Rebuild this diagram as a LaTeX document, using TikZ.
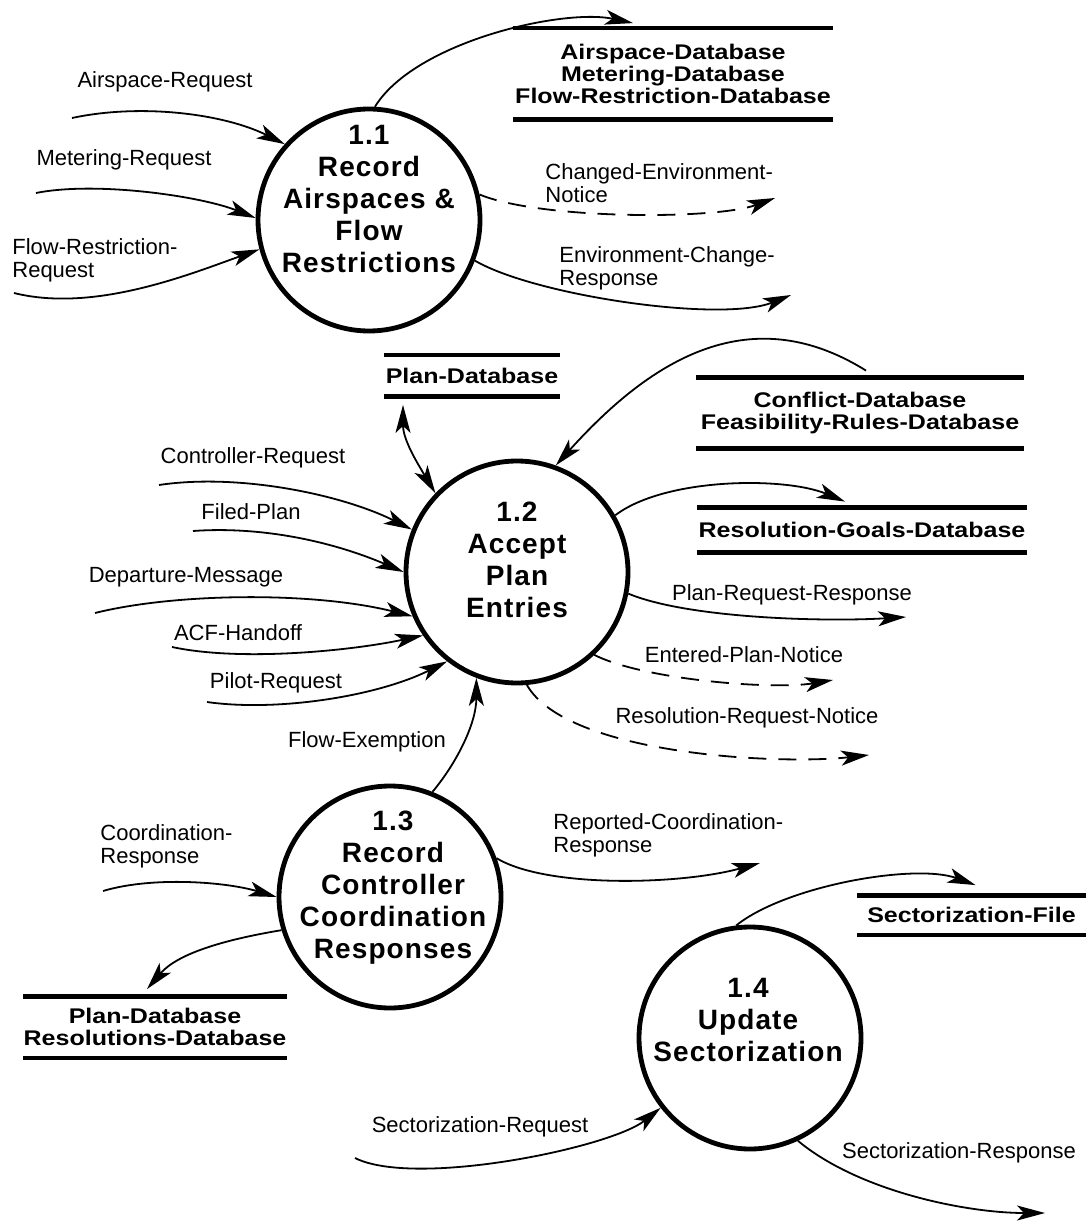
\documentclass[tikz,border=0pt]{standalone}
\usepackage{fontspec}
\setmainfont{Liberation Sans}
\newfontfamily\procfont[LetterSpace=4]{Liberation Sans}
\newfontfamily\storefont[FakeStretch=1.18]{Liberation Sans}
\usetikzlibrary{arrows.meta, shapes.geometric, positioning}

\begin{document}
\begin{tikzpicture}[x=0.5pt, y=-0.5pt,
      >={Stealth[length=14pt, width=7.5pt, inset=3.5pt]},
      proc/.style={circle, draw, line width=2.4pt, minimum size=111pt, inner sep=0pt},
      ptext/.style={align=center, inner sep=0pt,
                    font=\procfont\bfseries\fontsize{14}{16}\selectfont},
      store/.style={align=center, inner sep=0pt,
                    font=\storefont\bfseries\fontsize{10.6}{10.8}\selectfont},
      lbl/.style={align=left, inner sep=0pt, font=\fontsize{11}{11.5}\selectfont},
      flow/.style={->, line width=0.9pt},
      notice/.style={flow, dash pattern=on 9pt off 6pt},
      storeline/.style={line width=2.4pt}]
    \useasboundingbox (0,0) rectangle (1086,1224);

    \node[proc] (p11) at (369,220) {};
    \node[ptext] (t11) at (369,199) {1.1\\Record\\Airspaces \&\\Flow\\Restrictions};
    \node[proc] (p12) at (517,572) {};
    \node[ptext] (t12) at (517,560) {1.2\\Accept\\Plan\\Entries};
    \node[proc] (p13) at (390,897) {};
    \node[ptext] (t13) at (393,888) {1.3\\Record\\Controller\\Coordination\\Responses};
    \node[proc] (p14) at (750,1038) {};
    \node[ptext] (t14) at (748,1020) {1.4\\Update\\Sectorization};

    \node[store, minimum width=160pt, minimum height=45.5pt] (s1) at (673,74)
      {Airspace-Database\\Metering-Database\\Flow-Restriction-Database};
    \node[store, minimum width=87.5pt, minimum height=20.5pt] (s2) at (472,376) {Plan-Database};
    \node[store, minimum width=163.5pt, minimum height=35pt] (s3) at (860,413)
      {Conflict-Database\\Feasibility-Rules-Database};
    \node[store, minimum width=165pt, minimum height=22pt] (s4) at (862,530)
      {Resolution-Goals-Database};
    \node[store, minimum width=130.5pt, minimum height=30.5pt] (s5) at (155,1027)
      {Plan-Database\\Resolutions-Database};
    \node[store, minimum width=114.5pt, minimum height=19.5pt] (s6) at (971.5,915)
      {Sectorization-File};
    \foreach \s in {s1,s2,s3,s4,s5,s6}
      \draw[storeline] (\s.north west) -- (\s.north east) (\s.south west) -- (\s.south east);

    \coordinate (airq) at (72,118);
    \coordinate (metq) at (36,193);
    \coordinate (frq) at (14,293);
    \coordinate (cen) at (775,198);
    \coordinate (ecr) at (791,295);
    \coordinate (ctlq) at (159,485);
    \coordinate (fpl) at (193,531);
    \coordinate (dep) at (95,613);
    \coordinate (acf) at (172,647);
    \coordinate (pil) at (207,702);
    \coordinate (prr) at (906,617);
    \coordinate (epn) at (833,680);
    \coordinate (rrn) at (869,755);
    \coordinate (cor) at (103,891);
    \coordinate (rcr) at (760,863);
    \coordinate (secq) at (355,1158);
    \coordinate (secr) at (1045,1213);

    \draw[flow] (airq) .. controls +(70,-15) and +(-60,-30) .. (p11.138);
    \draw[flow] (metq) .. controls +(60,-12) and +(-55,-22) .. (p11.179);
    \draw[flow] (frq) .. controls +(80,20) and +(-70,25) .. (p11.195);
    \draw[flow] (p11.87) .. controls +(40,-65) and +(-70,-15) .. ([xshift=-20pt,yshift=2.5pt]s1.north);
    \draw[notice] (p11.13) .. controls +(60,25) and +(-60,22) .. (cen);
    \draw[flow] (p11.339) .. controls +(60,35) and +(-70,28) .. (ecr);

    \draw[<->, line width=0.9pt] ([xshift=-34.5pt,yshift=-4pt]s2.south)
      .. controls +(0,35) and +(-18,-30) .. (p12.136);
    \draw[flow] ([xshift=3pt,yshift=3.5pt]s3.north) .. controls +(-120,-75) and +(90,-100) .. (p12.70);
    \draw[flow] (p12.30) .. controls +(50,-38) and +(-60,-25) .. ([xshift=-8.5pt,yshift=3pt]s4.north);
    \draw[flow] (ctlq) .. controls +(80,-12) and +(-70,-35) .. (p12.158);
    \draw[flow] (fpl) .. controls +(70,-5) and +(-70,-30) .. (p12.180);
    \draw[flow] (dep) .. controls +(80,-20) and +(-100,-25) .. (p12.203);
    \draw[flow] (acf) .. controls +(70,15) and +(-70,15) .. (p12.214);
    \draw[flow] (pil) .. controls +(70,10) and +(-70,35) .. (p12.232);
    \draw[flow] (p13.68) .. controls +(25,-30) and +(0,45) .. (p12.249);
    \draw[flow] (p12.349) .. controls +(60,25) and +(-80,5) .. (prr);
    \draw[notice] (p12.313) .. controls +(50,25) and +(-60,10) .. (epn);
    \draw[notice] (p12.275) .. controls +(40,70) and +(-90,10) .. (rrn);

    \draw[flow] (cor) .. controls +(50,-15) and +(-50,-15) .. (p13.180);
    \draw[flow] (p13.197) .. controls +(-60,10) and +(30,-35) .. ([xshift=-4pt,yshift=3.5pt]s5.north);
    \draw[flow] (p13.20) .. controls +(50,30) and +(-80,22) .. (rcr);

    \draw[flow] (p14.97) .. controls +(50,-40) and +(-60,-22) .. ([xshift=2pt,yshift=5pt]s6.north);
    \draw[flow] (secq) .. controls +(60,30) and +(-50,40) .. (p14.218);
    \draw[flow] (p14.295) .. controls +(60,50) and +(-80,0) .. (secr);

    \node[lbl] (l-airq) at (165,82) {Airspace-Request};
    \node[lbl] (l-metq) at (124,160) {Metering-Request};
    \node[lbl, anchor=west] (l-frq) at (12,260) {Flow-Restriction-\\Request};
    \node[lbl, anchor=west] (l-cen) at (545,183) {Changed-Environment-\\Notice};
    \node[lbl, anchor=west] (l-ecr) at (559,268) {Environment-Change-\\Response};
    \node[lbl] (l-ctlq) at (253,458) {Controller-Request};
    \node[lbl] (l-fpl) at (251,512) {Filed-Plan};
    \node[lbl] (l-dep) at (186,577) {Departure-Message};
    \node[lbl] (l-acf) at (238,633) {ACF-Handoff};
    \node[lbl] (l-pil) at (276,683) {Pilot-Request};
    \node[lbl] (l-fex) at (367,742) {Flow-Exemption};
    \node[lbl] (l-prr) at (792,595) {Plan-Request-Response};
    \node[lbl] (l-epn) at (744,655) {Entered-Plan-Notice};
    \node[lbl] (l-rrn) at (747,718) {Resolution-Request-Notice};
    \node[lbl, anchor=west] (l-cor) at (100,846) {Coordination-\\Response};
    \node[lbl, anchor=west] (l-rcr) at (553,835) {Reported-Coordination-\\Response};
    \node[lbl] (l-secq) at (480,1127) {Sectorization-Request};
    \node[lbl] (l-secr) at (959,1153) {Sectorization-Response};
  \end{tikzpicture}
\end{document}
